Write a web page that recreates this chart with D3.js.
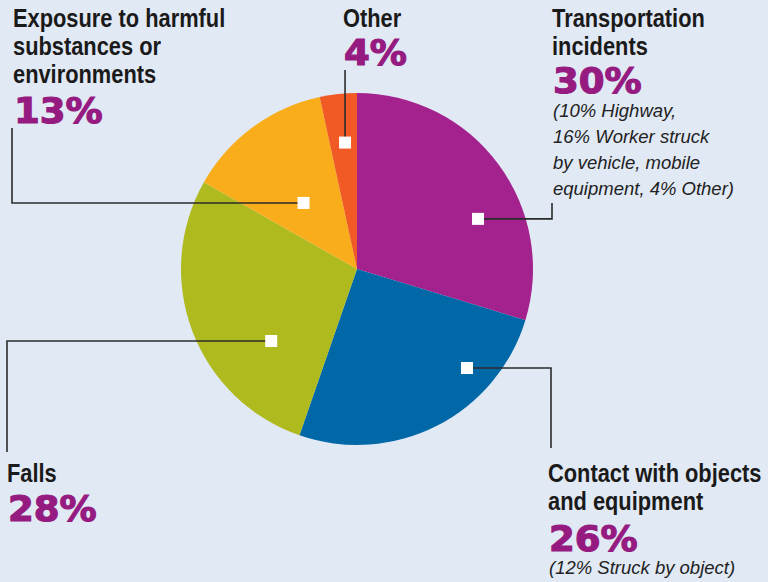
<!DOCTYPE html>
<html><head><meta charset="utf-8">
<script src="https://cdn.jsdelivr.net/npm/d3@7"></script>
<style>
html,body{margin:0;padding:0;background:#e1e9f5;}
svg{display:block;}
.title{font-family:"Liberation Sans",Arial,sans-serif;font-weight:bold;font-size:26px;fill:#1a1a1a;}
.pct{font-family:"DejaVu Sans",sans-serif;font-weight:bold;font-size:35px;fill:#951b81;stroke:#951b81;stroke-width:1.2px;}
.note{font-family:"Liberation Sans",Arial,sans-serif;font-style:italic;font-size:18.5px;fill:#222;}
</style></head>
<body>
<svg id="c" width="768" height="582"></svg>
<script>
const categories = ["Transportation incidents","Contact with objects and equipment","Falls","Exposure to harmful substances or environments","Other"];
// slice sizes as drawn in the picture (share of the circle, %)
const values = [29.7, 25.6, 27.9, 13.4, 3.4];
const pctLabels = ["30%","26%","28%","13%","4%"];
const notes = [["(10% Highway,","16% Worker struck","by vehicle, mobile","equipment, 4% Other)"],["(12% Struck by object)"],[],[],[]];
const colors = ["#a3228d","#0068a6","#afba1f","#f9ad1b","#f15a24"];

const svg = d3.select("#c");
const cx = 357, cy = 269, R = 176;
const g = svg.append("g").attr("transform",`translate(${cx},${cy})`);
const pie = d3.pie().sort(null).value(d=>d)(values);
const arc = d3.arc().innerRadius(0).outerRadius(R);
g.selectAll("path").data(pie).join("path").attr("d",arc).attr("fill",(d,i)=>colors[i]);

const layout = [
  {x:552, y:27, lines:["Transportation","incidents"], pctY:93, noteY:117, mk:[67.5,131], leader:"h", tx:552, ty:203},
  {x:548, y:482, lines:["Contact with objects","and equipment"], pctY:551, noteY:574, mk:[132,148], leader:"h", tx:551, ty:448},
  {x:7, y:482, lines:["Falls"], pctY:521, noteY:0, mk:[230,112], leader:"h", tx:7, ty:452},
  {x:13, y:27, lines:["Exposure to harmful","substances or","environments"], pctY:123, noteY:0, mk:[321,85], leader:"h", tx:12, ty:128},
  {x:343, y:27, lines:["Other"], pctY:65, noteY:0, mk:[354.6,127], leader:"v", tx:345, ty:70}
];

layout.forEach((L,i)=>{
  const a = L.mk[0]*Math.PI/180;
  const mx = cx + L.mk[1]*Math.sin(a), my = cy - L.mk[1]*Math.cos(a);
  let d;
  if (L.leader==="h") d = `M${mx},${my}H${L.tx}V${L.ty}`;
  else d = `M${mx},${my}V${L.ty}`;
  svg.append("path").attr("d",d).attr("fill","none").attr("stroke","#2b2b2b").attr("stroke-width",1.6);
  svg.append("rect").attr("x",mx-6).attr("y",my-6).attr("width",12).attr("height",12).attr("fill","#fff");
  L.lines.forEach((t,j)=>svg.append("text").attr("class","title")
    .attr("transform",`translate(${L.x},${L.y+j*28}) scale(0.84,1)`).text(t));
  svg.append("text").attr("class","pct")
    .attr("transform",`translate(${L.x+1},${L.pctY}) scale(1.06,1)`).text(pctLabels[i]);
  notes[i].forEach((t,j)=>svg.append("text").attr("class","note").attr("x",L.x+1).attr("y",L.noteY+j*26).text(t));
});
</script>
</body></html>
